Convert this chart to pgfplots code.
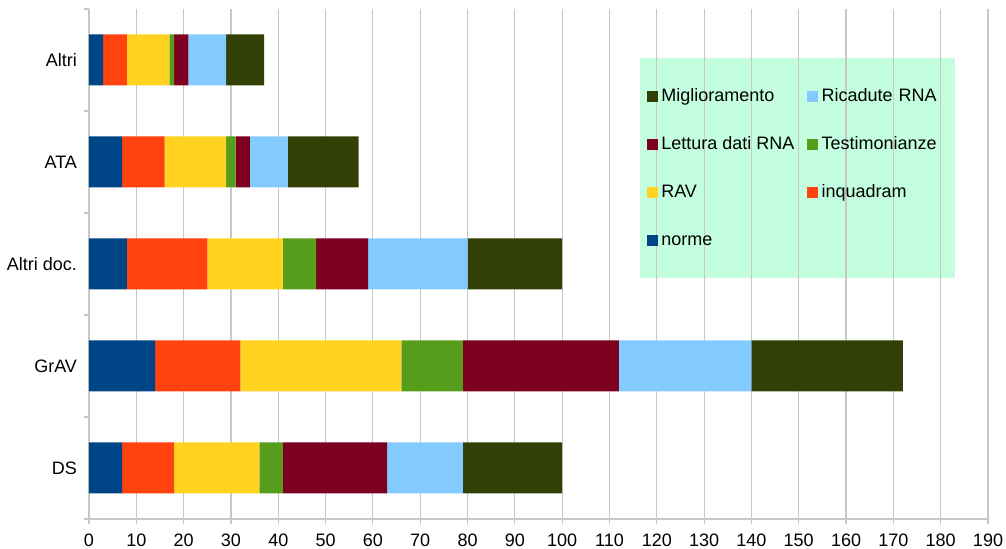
\documentclass[border=0pt]{standalone}
\usepackage{fontspec}
\setmainfont{Liberation Sans}
\usepackage{pgfplots}
\pgfplotsset{compat=1.18}
\definecolor{cnorme}{HTML}{004586}
\definecolor{cinq}{HTML}{FF420E}
\definecolor{crav}{HTML}{FFD320}
\definecolor{ctest}{HTML}{579D1C}
\definecolor{clett}{HTML}{7E0021}
\definecolor{cric}{HTML}{83CAFF}
\definecolor{cmig}{HTML}{314004}
\definecolor{legbg}{HTML}{C3FEDF}
\definecolor{gridc}{HTML}{C8C8C8}
\pgfplotsset{sq/.style={legend image code/.code={\fill[##1, fill opacity=1] (0pt,-2.75pt) rectangle (5.5pt,2.75pt);}}}
\begin{document}
\begin{tikzpicture}
\useasboundingbox (0,0) rectangle (503pt,274.5pt);
\begin{axis}[
  at={(44.5pt,15pt)}, anchor=south west,
  scale only axis, width=449.5pt, height=255pt,
  axis background/.style={path picture={\fill[legbg] (path picture bounding box.south west) ++(275.5pt,120.35pt) rectangle ++(157.5pt,110.15pt);}},
  xbar stacked, bar width=25.5pt,
  xmin=0, xmax=190, ymin=-0.5, ymax=4.5,
  xtick={0,10,...,190},
  ytick={0,1,2,3,4},
  yticklabels={DS,GrAV,Altri doc.,ATA,Altri},
  minor ytick={-0.5,0.5,1.5,2.5,3.5,4.5},
  xmajorgrids, grid style={draw=gridc, line width=0.6pt},
  axis x line*=bottom, axis y line*=left,
  axis line style={draw=gridc, line width=0.6pt, -},
  tick align=outside, major tick length=2.5pt, minor tick length=2.5pt,
  tick style={draw=gridc, line width=0.6pt},
  every major y tick/.append style={draw=none},
  tick label style={font=\fontsize{9pt}{10.8pt}\selectfont},
  xticklabel style={yshift=-1.5pt},
  /pgf/number format/assume math mode=true,
  reverse legend, legend columns=2, legend cell align=left,
  legend style={at={(0.6129,0.9039)}, anchor=north west,
    fill=none, draw=none, inner sep=0pt,
    minimum width=157.5pt, minimum height=110pt,
    font=\fontsize{9pt}{10.8pt}\selectfont,
    row sep=15.6pt,
    /tikz/every even column/.append style={column sep=4.5pt},
    /tikz/column 4/.style={nodes={text width=62pt}},
    nodes={inner xsep=1.8pt, inner ysep=0pt, minimum width=0pt, minimum height=0pt,
      text height=6.5pt, text depth=1.9pt}},
]
\addplot[fill=cnorme, draw=none, sq] coordinates {(7,0) (14,1) (8,2) (7,3) (3,4)};
\addplot[fill=cinq, draw=none, sq] coordinates {(11,0) (18,1) (17,2) (9,3) (5,4)};
\addplot[fill=crav, draw=none, sq] coordinates {(18,0) (34,1) (16,2) (13,3) (9,4)};
\addplot[fill=ctest, draw=none, sq] coordinates {(5,0) (13,1) (7,2) (2,3) (1,4)};
\addplot[fill=clett, draw=none, sq] coordinates {(22,0) (33,1) (11,2) (3,3) (3,4)};
\addplot[fill=cric, draw=none, sq] coordinates {(16,0) (28,1) (21,2) (8,3) (8,4)};
\addplot[fill=cmig, draw=none, sq] coordinates {(21,0) (32,1) (20,2) (15,3) (8,4)};
\legend{norme,inquadram,RAV,Testimonianze,Lettura dati RNA,Ricadute RNA,Miglioramento}
\end{axis}
\end{tikzpicture}
\end{document}
